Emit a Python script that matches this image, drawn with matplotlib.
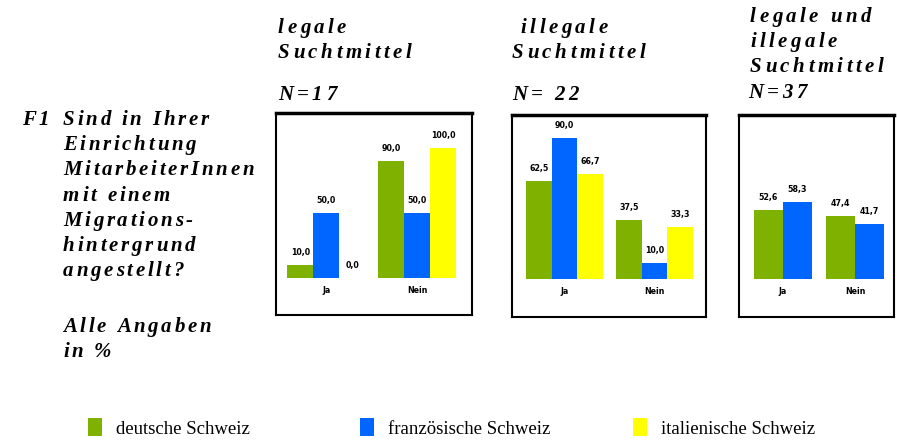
import numpy as np
import matplotlib
matplotlib.use('Agg')
import matplotlib.pyplot as plt
from matplotlib.font_manager import findfont, FontProperties
from matplotlib.ft2font import FT2Font

W, H = 897, 440

# data
groups = ['Ja', 'Nein']
series = ['deutsche Schweiz', 'französische Schweiz', 'italienische Schweiz']
colors = ['#7FB200', '#0066FF', '#FFFF00']

legal = [[10.0, 90.0], [50.0, 50.0], [0.0, 100.0]]
illegal = [[62.5, 37.5], [90.0, 10.0], [66.7, 33.3]]
both = [[52.6, 47.4], [58.3, 41.7]]

headers = [
    ['legale', 'Suchtmittel', '', 'N=17'],
    [' illegale', 'Suchtmittel', '', 'N= 22'],
    ['legale und', 'illegale', 'Suchtmittel', 'N=37'],
]
question = ['Sind in Ihrer', 'Einrichtung', 'MitarbeiterInnen', 'mit einem',
            'Migrations-', 'hintergrund', 'angestellt?',
            'Alle Angaben', 'in %']
question_y = [125, 150, 175, 201, 226, 251, 276, 332, 357]

fig = plt.figure(figsize=(W / 100, H / 100), dpi=100)


def fx(x):
    return x / W


def fy(y):
    return 1 - y / H


def spaced(x, y, s, size=15, track=2.7, weight='bold', style='italic'):
    fp = FontProperties(family='Liberation Serif', weight=weight, style=style, size=size)
    font = FT2Font(findfont(fp), hinting_factor=1)
    font.set_size(size, 100)
    cx = x
    for ch in s:
        fig.text(fx(cx), fy(y), ch, fontproperties=fp, ha='left', va='baseline')
        g = font.load_char(ord(ch))
        cx += g.linearHoriAdvance / 65536 + track


# question text on the left
spaced(22, 125, 'F1')
for line, y in zip(question, question_y):
    spaced(63, y, line)

# panel headers
hx = [278, 512, 750]
hy = [[33, 58, None, 100], [33, 58, None, 100], [22, 47, 72, 98]]
for k in range(3):
    for j, line in enumerate(headers[k]):
        if line:
            x = hx[k] - (2 if k == 2 and j == 3 else 0)
            spaced(x, hy[k][j], line, track=3.4)

# panels: box in pixels (left, top, right, bottom), xlim, ylim
panels = [
    (legal, (276, 113, 472, 315), (-1.94, 5.6), (-28.5, 126.9), 3.5),
    (illegal, (512, 115, 706, 317), (-2.04, 5.5), (-24.2, 104.5), 3.5),
    (both, (739, 115, 894, 317), (-1.5, 3.84), (-28.8, 124.2), 2.5),
]

handles = None
for data, box, xl, yl, gap in panels:
    l, t, r, b = box
    ax = fig.add_axes([fx(l), fy(b), (r - l) / W, (b - t) / H])
    n = len(data)
    offs = np.arange(n) - (n - 1) / 2
    xs = np.arange(len(groups)) * gap
    bars = []
    for s in range(n):
        bc = ax.bar(xs + offs[s], data[s], width=1.0, color=colors[s],
                    edgecolor='none', label=series[s])
        bars.append(bc)
        for xv, v in zip(xs + offs[s], data[s]):
            ax.annotate(f'{v:.1f}'.replace('.', ','), xy=(xv, v), xytext=(0, 9),
                        textcoords='offset points', ha='center', va='center',
                        fontsize=5.7, fontweight='bold', family='DejaVu Sans')
    for xv, g in zip(xs, groups):
        ax.annotate(g, xy=(xv, 0), xytext=(0, -6), textcoords='offset points',
                    ha='center', va='top', fontsize=5.7, fontweight='bold',
                    family='DejaVu Sans')
    ax.set_xlim(*xl)
    ax.set_ylim(*yl)
    ax.set_xticks([])
    ax.set_yticks([])
    for side in ['left', 'right', 'bottom']:
        ax.spines[side].set_linewidth(1.5)
    ax.spines['top'].set_linewidth(2.5)
    if n == 3 and handles is None:
        handles = bars

# legend, one entry per series
lx = [88, 360, 633]
for s in range(3):
    fig.legend(handles=[handles[s]], labels=[series[s]], loc='center left',
               bbox_to_anchor=(fx(lx[s]), fy(428)), frameon=False,
               prop=FontProperties(family='Liberation Serif', size=13.5),
               handlelength=0.75, handleheight=1.1, handletextpad=0.75,
               borderpad=0, borderaxespad=0)

plt.savefig('out.png', dpi=100)
